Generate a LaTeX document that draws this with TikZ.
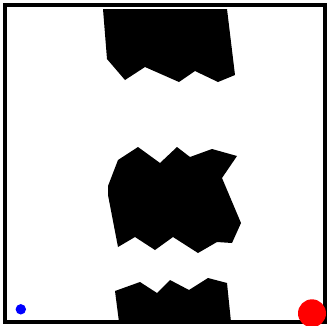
\documentclass[tikz,border=0pt]{standalone}
\usepackage{tikz}
\usepackage{xcolor}
\usetikzlibrary{calc}
\definecolor{ink}{HTML}{000000}
\definecolor{startblue}{HTML}{0000FF}
\definecolor{goalred}{HTML}{FF0000}
\tikzset{
  wall/.style={draw=ink,line width=0.12cm},
  obstacle/.style={fill=ink,draw=none},
  startdot/.style={fill=startblue,draw=none},
  goaldot/.style={fill=goalred,draw=none}
}
\begin{document}
\begin{tikzpicture}[x=0.03cm,y=-0.03cm]
  \useasboundingbox (0,0) rectangle (327,325);
  \fill[white] (0,0) rectangle (327,325);

  % obstacles
  \fill[obstacle] (103,9) -- (227,9) -- (235,75) -- (218,82) -- (195,71) -- (179,82)
    -- (145,67) -- (125,80) -- (107,59) -- cycle;
  \fill[obstacle] (118,160) -- (138,147) -- (160,163) -- (177,147) -- (190,157) -- (212,149)
    -- (237,156) -- (222,178) -- (241,223) -- (232,243) -- (217,242) -- (198,253)
    -- (173,237) -- (155,250) -- (135,237) -- (118,247) -- (108,195) -- (108,186) -- cycle;
  \fill[obstacle] (115,291) -- (140,282) -- (157,293) -- (170,280) -- (189,290) -- (208,278)
    -- (227,283) -- (231,322) -- (119,322) -- cycle;

  % walls
  \draw[wall] (5.3,5.3) rectangle (325.3,322);

  % start and goal
  \coordinate (start) at (20.8,309.3);
  \coordinate (goal) at (312,313.3);
  \fill[startdot] (start) circle[radius=5.2];
  \fill[goaldot] (goal) circle[radius=14];
\end{tikzpicture}
\end{document}
